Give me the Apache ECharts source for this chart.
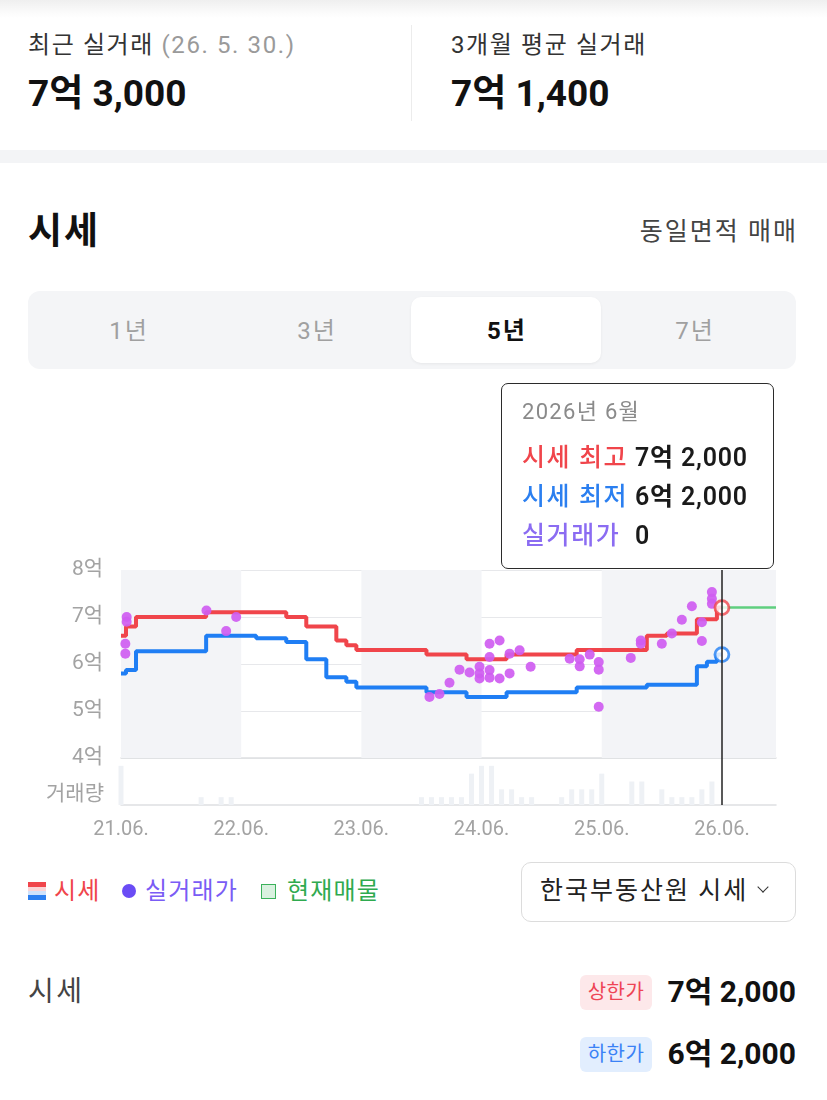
<!DOCTYPE html>
<html>
<head>
<meta charset="utf-8">
<script src="https://cdn.jsdelivr.net/npm/echarts@6/dist/echarts.min.js"></script>
<style>
  html,body{margin:0;padding:0;background:#fff;}
  body{width:827px;height:1100px;position:relative;overflow:hidden;font-family:Roboto,'Noto Sans CJK KR',sans-serif;color:#222;}
  .a{position:absolute;white-space:nowrap;}
  .topbar{left:0;top:0;width:827px;height:18px;background:linear-gradient(#efefef,#fbfbfb 70%,#fff);}
  .lbl{font-size:24px;letter-spacing:1.6px;color:#333;line-height:30px;}
  .lbl span{color:#9a9a9a;}
  .big{font-size:37px;font-weight:700;color:#111;line-height:44px;}
  .vdiv{left:411px;top:25px;width:1px;height:96px;background:#ececec;}
  .sep{left:0;top:150px;width:827px;height:13px;background:#f3f4f6;}
  .title{left:28px;top:210px;font-size:37px;letter-spacing:2px;font-weight:700;line-height:44px;color:#111;}
  .same{right:29px;top:217px;font-size:25px;letter-spacing:2px;line-height:30px;color:#444;}
  .tabs{left:28px;top:291px;width:768px;height:78px;background:#f4f5f7;border-radius:12px;}
  .tabact{left:411px;top:297px;width:190px;height:66px;background:#fff;border-radius:10px;box-shadow:0 1px 3px rgba(0,0,0,0.06);}
  .tab{top:316px;width:150px;margin-left:-75px;text-align:center;font-size:24px;letter-spacing:2px;line-height:30px;color:#a0a0a0;}
  .tab.on{color:#111;font-weight:700;}
  #chart{position:absolute;left:0;top:370px;width:827px;height:480px;}
  .leg{top:876px;font-size:24px;letter-spacing:1.2px;line-height:30px;}
  .dd{left:521px;top:862px;width:273px;height:58px;border:1px solid #dcdcdc;border-radius:10px;}
  .ddt{left:540px;top:876px;font-size:25px;letter-spacing:2px;line-height:30px;color:#222;}
  .chev{left:759px;top:883px;width:7px;height:7px;border-right:1.8px solid #333;border-bottom:1.8px solid #333;transform:rotate(45deg);}
  .bl{left:28px;top:975px;font-size:28px;letter-spacing:2.5px;line-height:34px;color:#444;}
  .badge{left:580px;width:72px;height:35px;border-radius:6px;text-align:center;font-size:20px;letter-spacing:0.5px;line-height:35px;}
  .bv{right:31px;font-size:30px;font-weight:700;line-height:36px;color:#111;}
</style>
</head>
<body>
<div class="a topbar"></div>

<div class="a lbl" style="left:28px;top:30px;">최근 실거래 <span>(26. 5. 30.)</span></div>
<div class="a big" style="left:28px;top:72px;">7억 3,000</div>
<div class="a vdiv"></div>
<div class="a lbl" style="left:451px;top:30px;">3개월 평균 실거래</div>
<div class="a big" style="left:451px;top:72px;">7억 1,400</div>
<div class="a sep"></div>

<div class="a title">시세</div>
<div class="a same">동일면적 매매</div>

<div class="a tabs"></div>
<div class="a tabact"></div>
<div class="a tab" style="left:129px;">1년</div>
<div class="a tab" style="left:317px;">3년</div>
<div class="a tab on" style="left:507px;">5년</div>
<div class="a tab" style="left:695px;">7년</div>

<div id="chart"></div>

<div class="a" style="left:28px;top:882px;width:18px;height:18px;background:linear-gradient(#f0454b 0,#f0454b 27%,#fbd3d5 27%,#fbd3d5 50%,#cfe2fb 50%,#cfe2fb 73%,#2b7ff0 73%,#2b7ff0 100%);"></div>
<div class="a leg" style="left:54px;color:#f0454b;">시세</div>
<div class="a" style="left:122px;top:884px;width:14px;height:14px;border-radius:50%;background:#6a4cf5;"></div>
<div class="a leg" style="left:145px;color:#7a5cf5;">실거래가</div>
<div class="a" style="left:261px;top:884px;width:13px;height:13px;border:1.5px solid #3bb25b;background:#d9f1df;"></div>
<div class="a leg" style="left:287px;color:#2faa4f;">현재매물</div>

<div class="a dd"></div>
<div class="a ddt">한국부동산원 시세</div>
<div class="a chev"></div>

<div class="a bl">시세</div>
<div class="a badge" style="top:975px;background:#fde8ea;color:#ee4455;">상한가</div>
<div class="a bv" style="top:974px;">7억 2,000</div>
<div class="a badge" style="top:1037px;background:#e2eefe;color:#3b82f6;">하한가</div>
<div class="a bv" style="top:1036px;">6억 2,000</div>

<script>
// ---------- data ----------
const months = ['21.06','21.07','21.08','21.09','21.10','21.11','21.12',
  '22.01','22.02','22.03','22.04','22.05','22.06','22.07','22.08','22.09','22.10','22.11','22.12',
  '23.01','23.02','23.03','23.04','23.05','23.06','23.07','23.08','23.09','23.10','23.11','23.12',
  '24.01','24.02','24.03','24.04','24.05','24.06','24.07','24.08','24.09','24.10','24.11','24.12',
  '25.01','25.02','25.03','25.04','25.05','25.06','25.07','25.08','25.09','25.10','25.11','25.12',
  '26.01','26.02','26.03','26.04','26.05','26.06'];

// 시세 최고 (만원)
const priceHigh = [66000,68000,
  70000,70000,70000,70000,70000,70000,70000,
  71000,71000,71000,71000,71000,71000,71000,71000,
  70000,70000,
  68000,68000,68000,
  65000,64000,
  63000,63000,63000,63000,63000,63000,63000,
  62000,62000,62000,62000,
  61000,61000,61000,61000,
  62000,62000,62000,62000,62000,62000,62000,
  63000,63000,63000,63000,63000,63000,63000,
  66000,66000,
  66500,66500,66500,
  69500,69500,
  72000];

// 시세 최저 (만원)
const priceLow = [58000,58700,
  62700,62700,62700,62700,62700,62700,62700,
  66000,66000,66000,66000,66000,
  65500,65500,65500,
  64700,64700,
  61000,61000,
  57200,57200,
  56200,
  55000,55000,55000,55000,55000,55000,55000,
  54000,54000,54000,54000,
  53000,53000,53000,53000,
  54000,54000,54000,54000,54000,54000,54000,
  55000,55000,55000,55000,55000,55000,55000,
  55600,55600,55600,55600,55600,
  59500,60500,
  62000];

// 거래량 (건)
const volume = [5,0,0,0,0,0,0,0,1,0,1,1,
  0,0,0,0,0,0,0,0,0,0,0,0,
  0,0,0,0,0,0,1,1,1,1,1,4,
  5,5,2,2,1,1,0,0,1,2,2,2,
  4,0,0,3,3,0,2,1,1,1,2,3,
  0];

// 실거래가 [거래일, 만원]
const deals = [
  ['2021.06.18',70000],['2021.06.18',69000],['2021.06.14',64300],['2021.06.14',62200],
  ['2022.02.17',71400],['2022.04.16',67000],['2022.05.16',70000],
  ['2023.12.25',53000],['2024.01.25',53600],['2024.02.25',56000],['2024.03.25',58800],
  ['2024.04.25',58200],['2024.05.25',59400],['2024.05.25',58000],['2024.05.25',56900],
  ['2024.06.25',64300],['2024.06.25',61500],['2024.06.25',58700],['2024.06.25',57100],
  ['2024.07.25',65000],['2024.07.25',56900],['2024.08.25',62200],['2024.08.25',58000],
  ['2024.09.25',62900],['2024.10.28',59400],
  ['2025.02.25',61100],['2025.03.25',61000],['2025.03.25',59500],['2025.04.25',62000],
  ['2025.05.22',60400],['2025.05.22',58800],['2025.05.22',50900],
  ['2025.08.28',61300],['2025.09.28',65000],['2025.09.28',64300],
  ['2025.12.01',64300],['2026.01.01',66500],['2026.02.01',69400],['2026.03.01',72300],
  ['2026.04.01',64900],['2026.04.01',68900],
  ['2026.05.01',75300],['2026.05.01',73900],['2026.05.01',72800]
];

// 현재매물 호가 (만원), 시작 월
const listingFrom = '26.06';
const listingPrice = 72000;

// 연도 음영 구간
const shadedSpans = [['21.06','22.06'],['23.06','24.06'],['25.06',null]];

const yTicks = [40000, 80000, 10000]; // min, max, interval
const axisEndDate = '2026.11.13';
const selectedMonth = '26.06';

// ---------- helpers ----------
function monthIdx(lbl){ const p = lbl.split('.').map(Number); return (p[0]-21)*12 + (p[1]-6); }
function dateIdx(d){ const p = d.split('.').map(Number); return (p[0]-2021)*12 + (p[1]-6) + (p[2]-1)/30; }
function fmtPrice(v){
  const eok = Math.floor(v/10000), rest = v%10000;
  return eok + '억' + (rest ? ' ' + rest.toLocaleString('en-US') : '');
}
const xEnd = dateIdx(axisEndDate);
const selIdx = monthIdx(selectedMonth);

const highData = priceHigh.map((v,i)=>[i,v]);
const lowData = priceLow.map((v,i)=>[i,v]);
const diffData = priceHigh.map((v,i)=>[i,v-priceLow[i]]);
const volData = volume.map((v,i)=>[i,v]);
const dealData = deals.map(d=>[dateIdx(d[0]), d[1]]);
const listData = [[monthIdx(listingFrom), listingPrice],[xEnd, listingPrice]];

const RED = '#f0454b', BLUE = '#1f7ef4', PURPLE = '#8b6cf2';
const axisColor = '#a3a3a3';
const FONT = "Roboto, 'Noto Sans CJK KR', sans-serif";

const chart = echarts.init(document.getElementById('chart'), null, {renderer:'canvas'});
const option = {
  animation: false,
  textStyle: { fontFamily: FONT },
  grid: [
    { left: 121, right: 51, top: 200, height: 188 },
    { left: 121, right: 51, top: 388, height: 47 }
  ],
  xAxis: [
    { type:'value', gridIndex:0, min:0, max:xEnd, interval:12,
      axisLine:{show:true, lineStyle:{color:'#dedfe2', width:1.5}}, axisTick:{show:false},
      axisLabel:{show:false}, splitLine:{show:false} },
    { type:'value', gridIndex:1, min:0, max:xEnd, interval:12,
      axisLine:{show:true, lineStyle:{color:'#dedfe2', width:1.5}}, axisTick:{show:false},
      splitLine:{show:false},
      axisLabel:{ color:axisColor, fontSize:20, margin:15, fontFamily:FONT,
        formatter: v => (Number.isInteger(v) && months[v]) ? months[v] + '.' : '' } }
  ],
  yAxis: [
    { type:'value', gridIndex:0, min:yTicks[0], max:yTicks[1], interval:yTicks[2],
      axisLine:{show:false}, axisTick:{show:false},
      splitLine:{lineStyle:{color:'#e7e8eb', width:1}},
      axisLabel:{ color:axisColor, fontSize:21, margin:18, fontFamily:FONT, formatter: v => (v/10000) + '억' } },
    { type:'value', gridIndex:1, min:0, max:6, interval:6,
      axisLine:{show:false}, axisTick:{show:false}, splitLine:{show:false},
      axisLabel:{ color:axisColor, fontSize:21, margin:17, fontFamily:FONT, verticalAlign:'bottom',
        formatter: v => v === 0 ? '거래량' : '' } }
  ],
  axisPointer: { link: [{ xAxisIndex: 'all' }] },
  tooltip: {
    trigger: 'axis',
    triggerOn: 'none',
    alwaysShowContent: true,
    transitionDuration: 0,
    position: [501, 13],
    padding: 0,
    backgroundColor: '#fff',
    borderColor: '#2b2b2b',
    borderWidth: 1.5,
    extraCssText: 'border-radius:7px;box-shadow:none;',
    axisPointer: { type:'line', snap:true, animation:false, label:{show:false},
      lineStyle:{ color:'#222', width:1.5, type:'solid' } },
    formatter: function(params){
      const p = params.find(q => q.seriesName === '시세 최고') || params[0];
      const idx = Math.round(p.value[0]);
      const lbl = months[idx];
      const yy = 2000 + Number(lbl.split('.')[0]), mm = Number(lbl.split('.')[1]);
      const inMonth = deals.filter(d => monthIdx(d[0].slice(2,7)) === idx);
      const row = (c, t, v) => '<div style="height:39px;line-height:39px;font-size:25px;">' +
        '<span style="display:inline-block;width:113px;color:'+c+';font-weight:500;letter-spacing:1.6px;">'+t+'</span>' +
        '<span style="color:#1a1a1a;font-weight:600;letter-spacing:0.8px;">'+v+'</span></div>';
      return '<div style="width:230px;padding:13px 21px 13px 20px;font-family:'+FONT.replace(/'/g,'&quot;')+';">' +
        '<div style="height:30px;line-height:30px;font-size:22px;letter-spacing:1.3px;color:#8a8a8a;margin-bottom:11px;">'+yy+'년 '+mm+'월</div>' +
        row(RED,'시세 최고',fmtPrice(priceHigh[idx])) +
        row('#2b7ff0','시세 최저',fmtPrice(priceLow[idx])) +
        row(PURPLE,'실거래가',inMonth.length ? fmtPrice(inMonth[0][1]) : '0') +
        '</div>';
    }
  },
  series: [
    { name:'bands', type:'line', xAxisIndex:0, yAxisIndex:0, data: highData, symbol:'none',
      lineStyle:{opacity:0}, silent:true, z:1, tooltip:{show:false}, emphasis:{disabled:true},
      markArea:{ silent:true, itemStyle:{ color:'#f3f4f7' },
        data: shadedSpans.map(s => [{xAxis: monthIdx(s[0])}, {xAxis: s[1] ? monthIdx(s[1]) : xEnd}]) } },
    { name:'시세 최저', type:'line', xAxisIndex:0, yAxisIndex:0, data: lowData, stack:'band', step:'middle',
      symbol:'none', lineStyle:{color:BLUE, width:4}, itemStyle:{color:BLUE}, z:4, emphasis:{disabled:true} },
    { name:'band', type:'line', xAxisIndex:0, yAxisIndex:0, data: diffData, stack:'band', step:'middle',
      symbol:'none', lineStyle:{width:0, opacity:0}, areaStyle:{color:'rgba(46,132,240,0.14)'}, z:2, emphasis:{disabled:true} },
    { name:'시세 최고', type:'line', xAxisIndex:0, yAxisIndex:0, data: highData, step:'middle',
      symbol:'none', lineStyle:{color:RED, width:4}, itemStyle:{color:RED}, z:5, emphasis:{disabled:true} },
    { name:'현재매물', type:'line', xAxisIndex:0, yAxisIndex:0, data: listData, symbol:'none',
      lineStyle:{color:'#5fcf7f', width:2.5}, z:3, emphasis:{disabled:true} },
    { name:'실거래가', type:'scatter', xAxisIndex:0, yAxisIndex:0, data: dealData, symbolSize:10,
      itemStyle:{color:'#cf5cf1', opacity:0.92}, z:6, emphasis:{disabled:true} },
    { name:'선택', type:'scatter', xAxisIndex:0, yAxisIndex:0, symbolSize:14, z:8, emphasis:{disabled:true},
      data: [
        { value:[selIdx, priceHigh[selIdx]], itemStyle:{color:'#fff', borderColor:RED, borderWidth:2.8} },
        { value:[selIdx, priceLow[selIdx]], itemStyle:{color:'#fff', borderColor:BLUE, borderWidth:2.8} }
      ] },
    { name:'거래량', type:'bar', xAxisIndex:1, yAxisIndex:1, data: volData, barWidth:5,
      itemStyle:{color:'#eef1f5'}, z:2, emphasis:{disabled:true} }
  ]
};
chart.setOption(option);
chart.dispatchAction({ type:'showTip', seriesIndex:3, dataIndex: selIdx });
</script>
</body>
</html>
